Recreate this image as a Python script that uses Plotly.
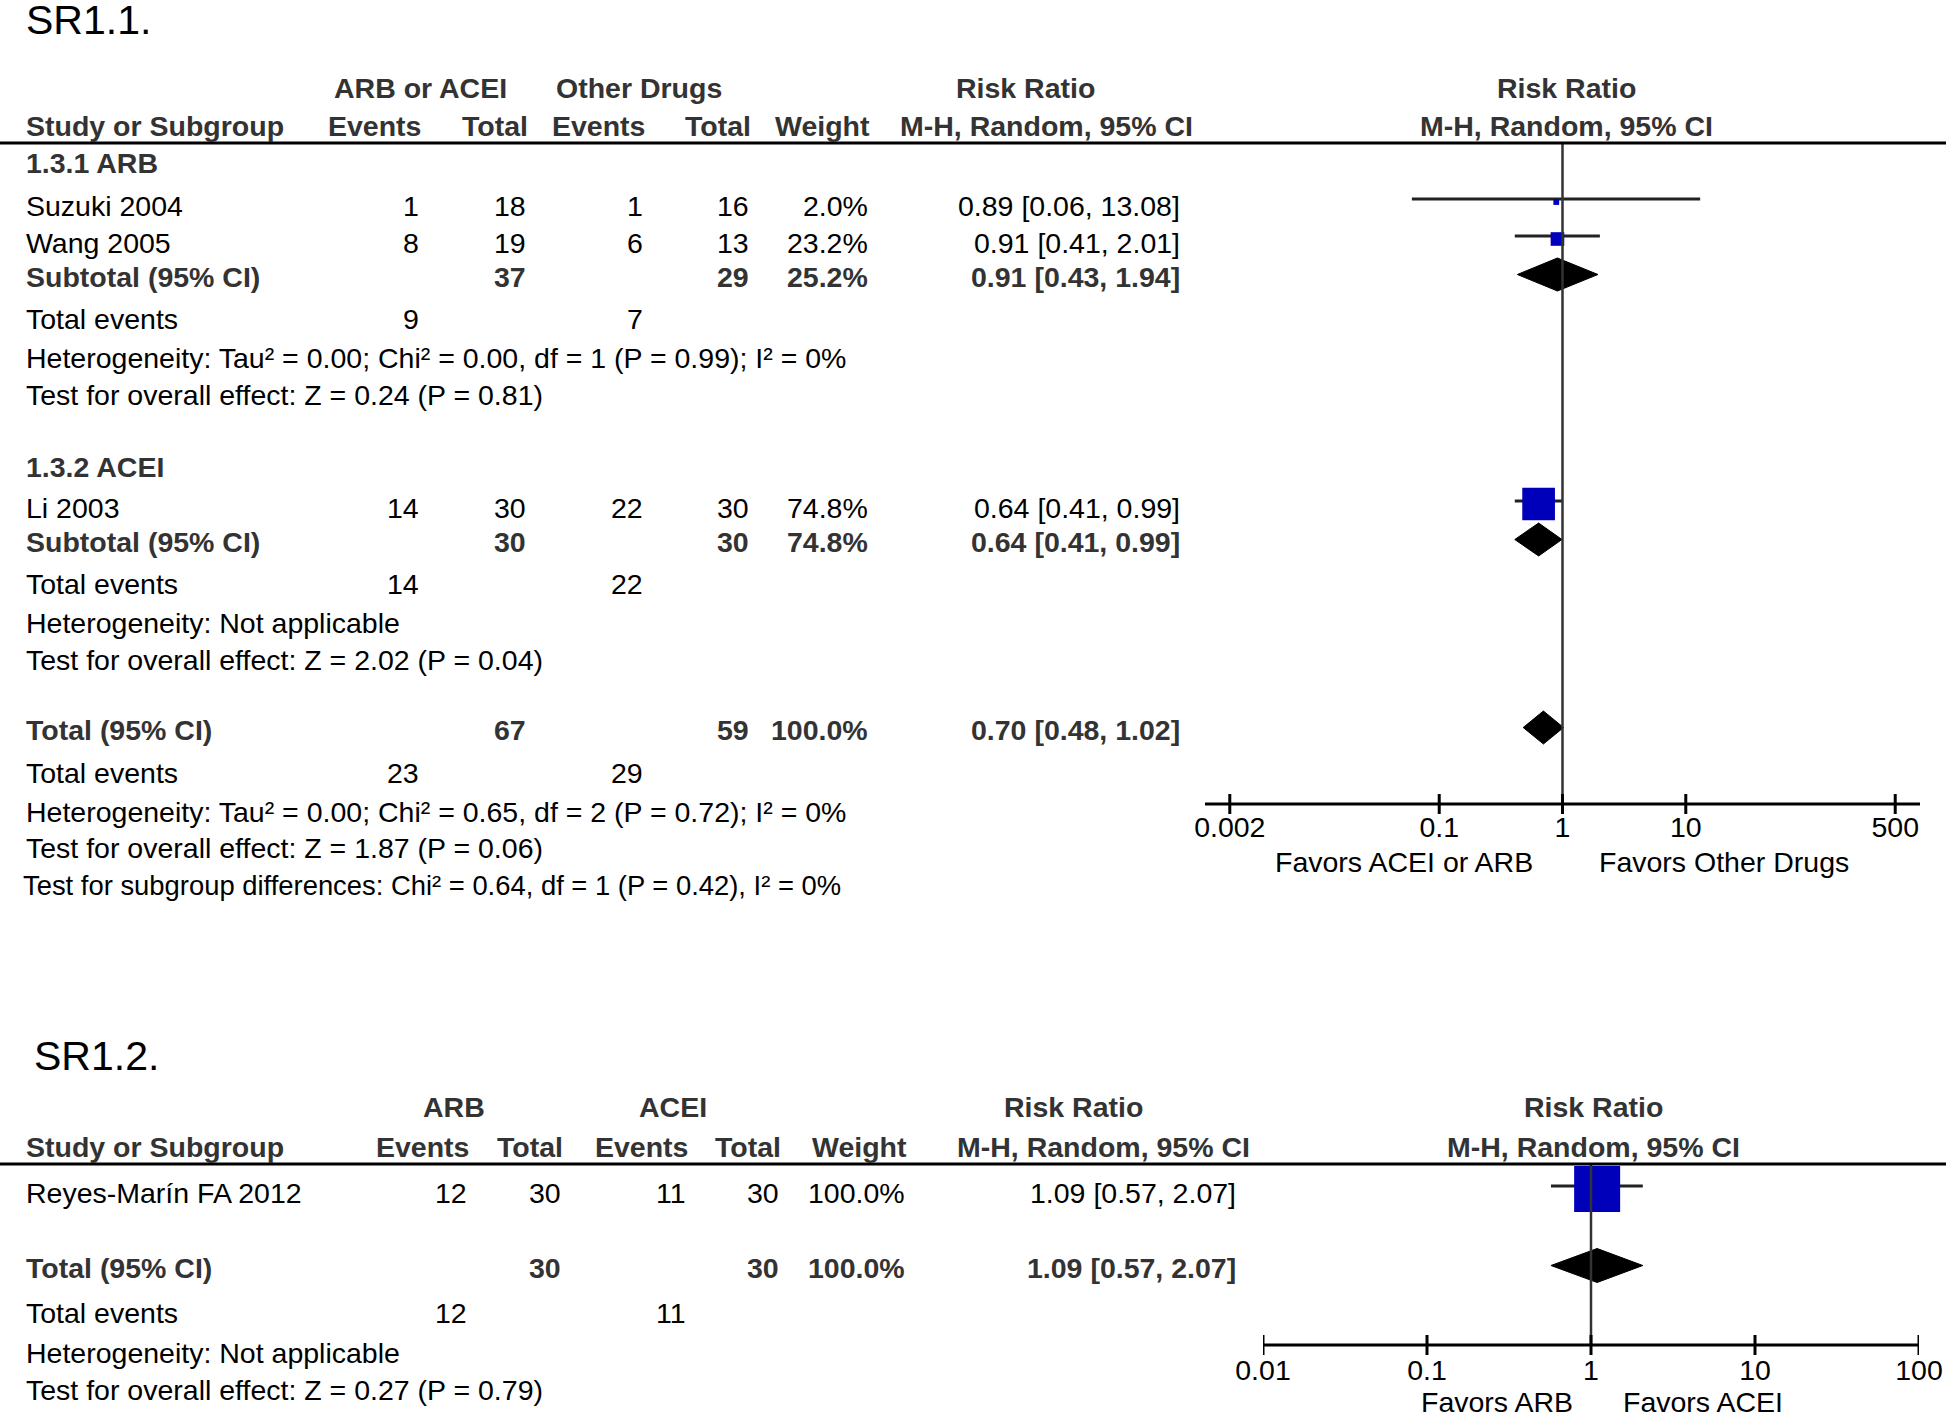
import plotly.graph_objects as go

W, H = 1946, 1412
FONT = "Liberation Sans, Arial, sans-serif"
FS = 28.5
BLUE = "#0000BB"

# ======================= DATA : SR1.1 =======================
p1_title = "SR1.1."
p1_arm_names = ["ARB or ACEI", "Other Drugs"]
p1_groups = ["1.3.1 ARB", "1.3.2 ACEI"]
p1_studies = ["Suzuki 2004", "Wang 2005", "Li 2003"]
p1_ev_trt = [1, 8, 14]
p1_n_trt = [18, 19, 30]
p1_ev_ctl = [1, 6, 22]
p1_n_ctl = [16, 13, 30]
p1_weight = [2.0, 23.2, 74.8]
p1_rr = [0.89, 0.91, 0.64]
p1_lo = [0.06, 0.41, 0.41]
p1_hi = [13.08, 2.01, 0.99]

p1_sum_labels = ["Subtotal (95% CI)", "Subtotal (95% CI)", "Total (95% CI)"]
p1_sum_n_trt = [37, 30, 67]
p1_sum_n_ctl = [29, 30, 59]
p1_sum_weight = [25.2, 74.8, 100.0]
p1_sum_rr = [0.91, 0.64, 0.70]
p1_sum_lo = [0.43, 0.41, 0.48]
p1_sum_hi = [1.94, 0.99, 1.02]
p1_sum_ev_trt = [9, 14, 23]
p1_sum_ev_ctl = [7, 22, 29]
p1_het = [
    "Heterogeneity: Tau² = 0.00; Chi² = 0.00, df = 1 (P = 0.99); I² = 0%",
    "Heterogeneity: Not applicable",
    "Heterogeneity: Tau² = 0.00; Chi² = 0.65, df = 2 (P = 0.72); I² = 0%",
]
p1_test = [
    "Test for overall effect: Z = 0.24 (P = 0.81)",
    "Test for overall effect: Z = 2.02 (P = 0.04)",
    "Test for overall effect: Z = 1.87 (P = 0.06)",
]
p1_subgroup_diff = "Test for subgroup differences: Chi² = 0.64, df = 1 (P = 0.42), I² = 0%"
p1_tick_vals = [0.002, 0.1, 1, 10, 500]
p1_tick_labels = ["0.002", "0.1", "1", "10", "500"]
p1_favors = ["Favors ACEI or ARB", "Favors Other Drugs"]

# ======================= DATA : SR1.2 =======================
p2_title = "SR1.2."
p2_arm_names = ["ARB", "ACEI"]
p2_studies = ["Reyes-Marín FA 2012"]
p2_ev_trt = [12]
p2_n_trt = [30]
p2_ev_ctl = [11]
p2_n_ctl = [30]
p2_weight = [100.0]
p2_rr = [1.09]
p2_lo = [0.57]
p2_hi = [2.07]
p2_sum_labels = ["Total (95% CI)"]
p2_sum_n_trt = [30]
p2_sum_n_ctl = [30]
p2_sum_weight = [100.0]
p2_sum_rr = [1.09]
p2_sum_lo = [0.57]
p2_sum_hi = [2.07]
p2_sum_ev_trt = [12]
p2_sum_ev_ctl = [11]
p2_het = ["Heterogeneity: Not applicable"]
p2_test = ["Test for overall effect: Z = 0.27 (P = 0.79)"]
p2_tick_vals = [0.01, 0.1, 1, 10, 100]
p2_tick_labels = ["0.01", "0.1", "1", "10", "100"]
p2_favors = ["Favors ARB", "Favors ACEI"]

# ======================= LAYOUT (pixel positions) =======================
P1 = dict(
    title_y=20, hdr1_y=88, hdr2_y=126, rule_y=143,
    group_y=[163, 467], study_y=[206, 243, 508],
    sum_y=[277, 542, 730], tev_y=[319, 584, 773],
    het_y=[358, 623, 812], test_y=[395, 660, 848], diff_y=885,
    axis_y=804, tick_lab_y=830, fav_y=862,
    label_x=25, title_x=25, ev1=420, n1=527, ev2=644, n2=750, wt=869, rr=1181, rr_hdr=1194,
    rr_title=1025, arm_c=[420, 639], forest_c=1566,
    fav_left_r=1534, fav_right_l=1598,
    sq_max=42, dia_h=16.5, xaxis="x",
)
P2 = dict(
    title_y=1056, hdr1_y=1107, hdr2_y=1147, rule_y=1164,
    study_y=[1193], sum_y=[1268], tev_y=[1313], het_y=[1353], test_y=[1390],
    axis_y=1345, tick_lab_y=1373, fav_y=1402,
    label_x=25, title_x=33, ev1=468, n1=562, ev2=687, n2=780, wt=906, rr=1237, rr_hdr=1251,
    rr_title=1073, arm_c=[454, 673], forest_c=1593,
    fav_left_r=1574, fav_right_l=1622,
    sq_max=46, dia_h=17, xaxis="x2",
)

annotations = []
shapes = []
fig = go.Figure()


def txt(x, y, s, anchor="left", bold=False, size=FS, color=None):
    annotations.append(dict(
        xref="paper", yref="y", x=x / W, y=y, text=("<b>%s</b>" % s) if bold else s,
        showarrow=False, xanchor=anchor, yanchor="middle", borderpad=0,
        font=dict(family=FONT, size=size, color=color or ("#333333" if bold else "#000000")),
    ))


def fmt_rr(r, l, h):
    return "%.2f [%.2f, %.2f]" % (r, l, h)


def panel(P, title, arms, studies, ev_t, n_t, ev_c, n_c, wt, rr, lo, hi,
          s_lab, s_nt, s_nc, s_wt, s_rr, s_lo, s_hi, s_evt, s_evc, het, test,
          ticks, tick_labels, favors, groups=None):
    xa = P["xaxis"]
    # titles & headers
    txt(P["title_x"], P["title_y"], title, size=41)
    txt(P["arm_c"][0], P["hdr1_y"], arms[0], "center", True)
    txt(P["arm_c"][1], P["hdr1_y"], arms[1], "center", True)
    txt(P["rr_title"], P["hdr1_y"], "Risk Ratio", "center", True)
    txt(P["forest_c"], P["hdr1_y"], "Risk Ratio", "center", True)
    txt(P["label_x"], P["hdr2_y"], "Study or Subgroup", "left", True)
    for col, lab in [("ev1", "Events"), ("n1", "Total"), ("ev2", "Events"), ("n2", "Total"), ("wt", "Weight")]:
        txt(P[col] + 2, P["hdr2_y"], lab, "right", True)
    txt(P["rr_hdr"], P["hdr2_y"], "M-H, Random, 95% CI", "right", True)
    txt(P["forest_c"], P["hdr2_y"], "M-H, Random, 95% CI", "center", True)
    shapes.append(dict(type="line", xref="paper", yref="y", x0=0, x1=1,
                       y0=P["rule_y"], y1=P["rule_y"], line=dict(color="#000", width=3)))

    if groups:
        for g, gy in zip(groups, P["group_y"]):
            txt(P["label_x"], gy, g, "left", True)

    # study rows
    for i, name in enumerate(studies):
        y = P["study_y"][i]
        txt(P["label_x"], y, name)
        txt(P["ev1"], y, str(ev_t[i]), "right")
        txt(P["n1"], y, str(n_t[i]), "right")
        txt(P["ev2"], y, str(ev_c[i]), "right")
        txt(P["n2"], y, str(n_c[i]), "right")
        txt(P["wt"], y, "%.1f%%" % wt[i], "right")
        txt(P["rr"], y, fmt_rr(rr[i], lo[i], hi[i]), "right")
        fig.add_trace(go.Scatter(x=[lo[i], hi[i]], y=[y - 7, y - 7], mode="lines",
                                 line=dict(color="#222222", width=3), xaxis=xa, yaxis="y",
                                 hoverinfo="skip", showlegend=False))
        size = P["sq_max"] * (0.12 + 0.88 * wt[i] / 100.0)
        fig.add_trace(go.Scatter(x=[rr[i]], y=[y - 4], mode="markers",
                                 marker=dict(symbol="square", size=size, color=BLUE, line=dict(width=0)),
                                 xaxis=xa, yaxis="y", hoverinfo="skip", showlegend=False))

    # summary rows
    for j, lab in enumerate(s_lab):
        y = P["sum_y"][j]
        txt(P["label_x"], y, lab, "left", True)
        txt(P["n1"], y, str(s_nt[j]), "right", True)
        txt(P["n2"], y, str(s_nc[j]), "right", True)
        txt(P["wt"], y, "%.1f%%" % s_wt[j], "right", True)
        txt(P["rr"], y, fmt_rr(s_rr[j], s_lo[j], s_hi[j]), "right", True)
        yc = y - 2.5
        h = P["dia_h"]
        fig.add_trace(go.Scatter(
            x=[s_lo[j], s_rr[j], s_hi[j], s_rr[j], s_lo[j]],
            y=[yc, yc - h, yc, yc + h, yc], mode="lines", fill="toself",
            fillcolor="#000000", line=dict(color="#000000", width=1),
            xaxis=xa, yaxis="y", hoverinfo="skip", showlegend=False))
        ty = P["tev_y"][j]
        txt(P["label_x"], ty, "Total events")
        txt(P["ev1"], ty, str(s_evt[j]), "right")
        txt(P["ev2"], ty, str(s_evc[j]), "right")
        txt(P["label_x"], P["het_y"][j], het[j])
        txt(P["label_x"], P["test_y"][j], test[j])

    # reference line at RR = 1
    fig.add_trace(go.Scatter(x=[1, 1], y=[P["rule_y"], P["axis_y"]], mode="lines",
                             line=dict(color="#333333", width=2.5), xaxis=xa, yaxis="y",
                             hoverinfo="skip", showlegend=False))
    # axis line
    shapes.append(dict(type="line", xref=xa + " domain", yref="y", x0=0, x1=1,
                       y0=P["axis_y"], y1=P["axis_y"], line=dict(color="#000", width=3)))
    tx, ty_ = [], []
    for t in ticks:
        tx += [t, t, None]
        ty_ += [P["axis_y"] - 10, P["axis_y"] + 10, None]
    fig.add_trace(go.Scatter(x=tx, y=ty_, mode="lines", line=dict(color="#000", width=3),
                             xaxis=xa, yaxis="y", hoverinfo="skip", showlegend=False))
    fig.add_trace(go.Scatter(x=ticks, y=[P["tick_lab_y"]] * len(ticks), mode="text",
                             text=tick_labels, textposition="middle center",
                             textfont=dict(family=FONT, size=FS, color="#000"),
                             xaxis=xa, yaxis="y", hoverinfo="skip", showlegend=False, cliponaxis=False))
    txt(P["fav_left_r"], P["fav_y"], favors[0], "right")
    txt(P["fav_right_l"], P["fav_y"], favors[1], "left")


panel(P1, p1_title, p1_arm_names, p1_studies, p1_ev_trt, p1_n_trt, p1_ev_ctl, p1_n_ctl,
      p1_weight, p1_rr, p1_lo, p1_hi, p1_sum_labels, p1_sum_n_trt, p1_sum_n_ctl, p1_sum_weight,
      p1_sum_rr, p1_sum_lo, p1_sum_hi, p1_sum_ev_trt, p1_sum_ev_ctl, p1_het, p1_test,
      p1_tick_vals, p1_tick_labels, p1_favors, groups=p1_groups)
txt(22, P1["diff_y"], p1_subgroup_diff, size=27.4)

panel(P2, p2_title, p2_arm_names, p2_studies, p2_ev_trt, p2_n_trt, p2_ev_ctl, p2_n_ctl,
      p2_weight, p2_rr, p2_lo, p2_hi, p2_sum_labels, p2_sum_n_trt, p2_sum_n_ctl, p2_sum_weight,
      p2_sum_rr, p2_sum_lo, p2_sum_hi, p2_sum_ev_trt, p2_sum_ev_ctl, p2_het, p2_test,
      p2_tick_vals, p2_tick_labels, p2_favors)

fig.update_layout(
    width=W, height=H, autosize=False,
    margin=dict(l=0, r=0, t=0, b=0),
    paper_bgcolor="white", plot_bgcolor="rgba(0,0,0,0)",
    showlegend=False, hovermode=False,
    xaxis=dict(type="log", domain=[1205 / W, 1920 / W], range=[-2.9, 2.9], visible=False, anchor="y"),
    xaxis2=dict(type="log", domain=[1263 / W, 1919 / W], range=[-2, 2], visible=False, anchor="y"),
    yaxis=dict(range=[H, 0], domain=[0, 1], visible=False),
    annotations=annotations, shapes=shapes,
)

fig.write_html(
    "out.html",
    config={"displayModeBar": False},
    post_script="document.body.style.margin='0px';document.body.style.padding='0px';document.body.style.overflow='hidden';",
)
